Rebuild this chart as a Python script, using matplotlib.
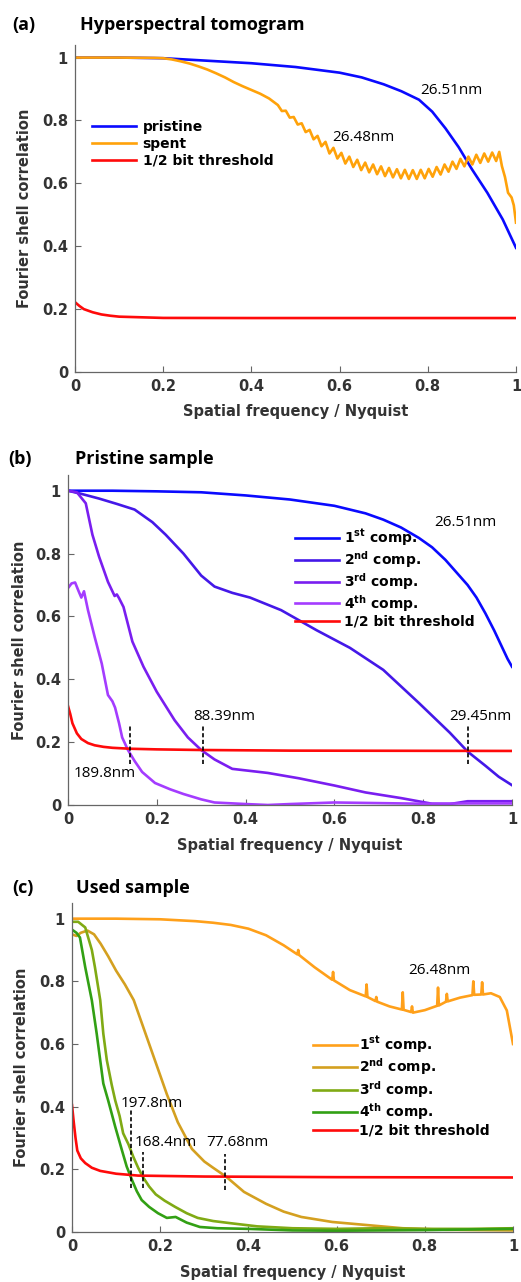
import matplotlib
matplotlib.use('Agg')
import matplotlib.pyplot as plt

plt.rcParams['font.family'] = ['DejaVu Sans']
plt.rcParams['mathtext.fontset'] = 'dejavusans'

# ---------------- (a) Hyperspectral tomogram ----------------
a_pristine_x = [0, 0.1, 0.2, 0.3, 0.4, 0.5, 0.6, 0.65, 0.7, 0.74, 0.78, 0.81, 0.84, 0.87, 0.9,
                0.935, 0.97, 1.0]
a_pristine_y = [1.0, 1.0, 0.998, 0.99, 0.982, 0.97, 0.952, 0.937, 0.915, 0.893, 0.866, 0.828, 0.775,
                0.715, 0.645, 0.57, 0.485, 0.395]

a_spent_x = [0, 0.1, 0.18, 0.2, 0.22, 0.24, 0.26, 0.28, 0.30, 0.32, 0.34, 0.36, 0.38, 0.40, 0.42, 0.44,
             0.460, 0.469, 0.478, 0.487, 0.496, 0.505, 0.514, 0.523, 0.532, 0.541,
             0.550, 0.559, 0.568, 0.577, 0.586, 0.595, 0.604, 0.613, 0.622, 0.631,
             0.640, 0.649, 0.658, 0.667, 0.676, 0.685, 0.694, 0.703, 0.712, 0.721,
             0.730, 0.739, 0.748, 0.757, 0.766, 0.775, 0.784, 0.793, 0.802, 0.811,
             0.820, 0.829, 0.838, 0.847, 0.856, 0.865, 0.874, 0.883, 0.892, 0.901,
             0.910, 0.919, 0.928, 0.937, 0.946, 0.955, 0.962,
             0.968, 0.975, 0.982, 0.99, 0.995, 1.0]
a_spent_y = [1.0, 1.0, 0.999, 0.998, 0.994, 0.988, 0.981, 0.972, 0.962, 0.95, 0.937, 0.922, 0.909,
             0.897, 0.885, 0.87,
             0.849, 0.830, 0.831, 0.809, 0.811, 0.787, 0.791, 0.763, 0.770, 0.740,
             0.751, 0.718, 0.732, 0.695, 0.713, 0.679, 0.697, 0.663, 0.685, 0.652,
             0.675, 0.642, 0.666, 0.635, 0.660, 0.629, 0.654, 0.623, 0.649, 0.619,
             0.645, 0.616, 0.643, 0.614, 0.642, 0.614, 0.643, 0.616, 0.646, 0.621,
             0.652, 0.628, 0.660, 0.637, 0.669, 0.646, 0.678, 0.654, 0.685, 0.660,
             0.691, 0.665, 0.695, 0.669, 0.698, 0.671, 0.700,
             0.655, 0.62, 0.57, 0.555, 0.53, 0.475]

a_thr_x = [0, 0.01, 0.02, 0.04, 0.06, 0.08, 0.1, 0.15, 0.2, 0.4, 1.0]
a_thr_y = [0.222, 0.21, 0.2, 0.19, 0.183, 0.179, 0.176, 0.174, 0.172, 0.1716, 0.1716]

# ---------------- (b) Pristine sample ----------------
b1_x = [0, 0.1, 0.2, 0.3, 0.4, 0.5, 0.6, 0.67, 0.71, 0.75, 0.79, 0.82, 0.85, 0.875, 0.9, 0.92,
        0.94, 0.96, 0.975, 0.99, 1.0]
b1_y = [1.0, 1.0, 0.998, 0.995, 0.985, 0.972, 0.952, 0.928, 0.908, 0.883, 0.85, 0.82, 0.78, 0.74,
        0.70, 0.66, 0.61, 0.555, 0.51, 0.465, 0.44]

b2_x = [0, 0.03, 0.07, 0.11, 0.15, 0.19, 0.22, 0.26, 0.3, 0.33, 0.37, 0.41, 0.48, 0.56, 0.635,
        0.71, 0.79, 0.86, 0.9, 0.94, 0.97, 1.0]
b2_y = [1.0, 0.99, 0.975, 0.958, 0.94, 0.9, 0.86, 0.8, 0.73, 0.695, 0.675, 0.66, 0.62, 0.556, 0.5,
        0.43, 0.325, 0.23, 0.17, 0.125, 0.09, 0.063]

b3_x = [0, 0.02, 0.04, 0.055, 0.07, 0.09, 0.105, 0.11, 0.115, 0.125, 0.145, 0.17, 0.2, 0.24, 0.27,
        0.3, 0.33, 0.37, 0.45, 0.52, 0.6, 0.67, 0.75, 0.82, 0.86, 0.9, 1.0]
b3_y = [1.0, 0.995, 0.96, 0.86, 0.79, 0.71, 0.665, 0.67, 0.658, 0.63, 0.52, 0.44, 0.36, 0.27, 0.215,
        0.175, 0.145, 0.115, 0.102, 0.085, 0.062, 0.04, 0.022, 0.004, 0.003, 0.012, 0.012]

b4_x = [0, 0.008, 0.016, 0.024, 0.03, 0.036, 0.045, 0.06, 0.076, 0.09, 0.1, 0.106, 0.115, 0.122,
        0.135, 0.15, 0.167, 0.196, 0.23, 0.26, 0.3, 0.33, 0.4, 0.45, 0.5, 0.6, 0.7, 0.8, 0.9, 1.0]
b4_y = [0.69, 0.705, 0.708, 0.68, 0.66, 0.68, 0.62, 0.535, 0.45, 0.35, 0.33, 0.31, 0.26, 0.215,
        0.175, 0.14, 0.105, 0.07, 0.05, 0.035, 0.018, 0.008, 0.003, 0.0, 0.003, 0.008, 0.006, 0.004, 0.005, 0.005]

b_thr_x = [0, 0.005, 0.01, 0.02, 0.03, 0.045, 0.06, 0.08, 0.1, 0.14, 0.2, 0.3, 0.5, 1.0]
b_thr_y = [0.315, 0.29, 0.26, 0.228, 0.21, 0.197, 0.19, 0.185, 0.182, 0.179, 0.177, 0.175, 0.173, 0.172]

# ---------------- (c) Used sample ----------------
c1_x = [0, 0.1, 0.2, 0.28, 0.32, 0.36, 0.4, 0.44, 0.48, 0.511, 0.513, 0.515, 0.55, 0.59, 0.592, 0.594,
        0.63, 0.666, 0.668, 0.670, 0.688, 0.690, 0.692, 0.72, 0.748, 0.75, 0.752, 0.769, 0.771, 0.773,
        0.80, 0.828, 0.83, 0.832, 0.848, 0.85, 0.852, 0.88, 0.908, 0.91, 0.912, 0.928, 0.93, 0.932,
        0.95, 0.97, 0.986, 1.0]
c1_y = [1.0, 1.0, 0.998, 0.992, 0.987, 0.98, 0.968, 0.947, 0.915, 0.886, 0.9, 0.884, 0.845, 0.805,
        0.83, 0.803, 0.772, 0.752, 0.79, 0.75, 0.737, 0.75, 0.735, 0.72, 0.71, 0.765, 0.709, 0.702,
        0.72, 0.70, 0.708, 0.722, 0.78, 0.723, 0.735, 0.76, 0.736, 0.748, 0.756, 0.80, 0.757, 0.758,
        0.797, 0.758, 0.762, 0.75, 0.707, 0.60]

c2_x = [0, 0.01, 0.02, 0.035, 0.05, 0.065, 0.082, 0.1, 0.12, 0.14, 0.165, 0.19, 0.215, 0.24, 0.272,
        0.3, 0.32, 0.35, 0.39, 0.44, 0.48, 0.52, 0.59, 0.67, 0.75, 0.85, 1.0]
c2_y = [0.95, 0.945, 0.955, 0.962, 0.95, 0.92, 0.88, 0.834, 0.79, 0.74, 0.64, 0.54, 0.44, 0.35, 0.265,
        0.225, 0.205, 0.176, 0.128, 0.09, 0.065, 0.048, 0.032, 0.022, 0.012, 0.007, 0.005]

c3_x = [0, 0.014, 0.03, 0.045, 0.052, 0.064, 0.071, 0.079, 0.09, 0.098, 0.108, 0.116, 0.128, 0.139,
        0.15, 0.161, 0.175, 0.19, 0.21, 0.234, 0.26, 0.285, 0.32, 0.36, 0.42, 0.5, 0.6, 0.7, 0.8, 0.9, 1.0]
c3_y = [0.99, 0.99, 0.972, 0.9, 0.845, 0.74, 0.633, 0.548, 0.47, 0.42, 0.37, 0.315, 0.28, 0.24,
        0.205, 0.175, 0.145, 0.12, 0.1, 0.08, 0.06, 0.045, 0.035, 0.028, 0.018, 0.012, 0.01, 0.012, 0.01, 0.01, 0.012]

c4_x = [0, 0.01, 0.018, 0.03, 0.045, 0.056, 0.064, 0.071, 0.082, 0.098, 0.113, 0.124, 0.136, 0.147,
        0.158, 0.175, 0.195, 0.215, 0.235, 0.26, 0.29, 0.33, 0.4, 0.5, 0.6, 0.7, 0.8, 0.9, 1.0]
c4_y = [0.965, 0.955, 0.94, 0.845, 0.739, 0.633, 0.548, 0.474, 0.42, 0.336, 0.262, 0.209, 0.166, 0.13,
        0.102, 0.08, 0.06, 0.045, 0.048, 0.03, 0.016, 0.012, 0.01, 0.005, 0.004, 0.005, 0.006, 0.008, 0.01]

c_thr_x = [0, 0.004, 0.008, 0.012, 0.02, 0.03, 0.045, 0.064, 0.1, 0.15, 0.3, 0.6, 1.0]
c_thr_y = [0.405, 0.35, 0.3, 0.26, 0.235, 0.22, 0.205, 0.195, 0.186, 0.18, 0.177, 0.175, 0.174]

# resolution markers (dashed) and labels
b_cut_x = [0.14, 0.304, 0.902]
b_cut_lo, b_cut_hi = 0.13, 0.25
c_cut_x = [0.133, 0.161, 0.348]
c_cut_lo = [0.14, 0.14, 0.135]
c_cut_hi = [0.39, 0.255, 0.25]

comp_labels = ['1$^{\\mathbf{st}}$ comp.', '2$^{\\mathbf{nd}}$ comp.',
               '3$^{\\mathbf{rd}}$ comp.', '4$^{\\mathbf{th}}$ comp.', '1/2 bit threshold']
ticks = [0, 0.2, 0.4, 0.6, 0.8, 1.0]
tick_labels = ['0', '0.2', '0.4', '0.6', '0.8', '1']

W, H = 521, 1282
fig = plt.figure(figsize=(W / 100, H / 100), dpi=100)


def make_axes(left, right, top, bottom, ytop):
    ax = fig.add_axes([left / W, 1 - bottom / H, (right - left) / W, (bottom - top) / H])
    ax.set_xlim(0, 1)
    ax.set_ylim(0, ytop)
    ax.spines['top'].set_visible(False)
    ax.spines['right'].set_visible(False)
    for s in ['left', 'bottom']:
        ax.spines[s].set_color('#666666')
        ax.spines[s].set_linewidth(0.9)
    ax.set_xticks(ticks)
    ax.set_xticklabels(tick_labels)
    ax.set_yticks(ticks)
    ax.set_yticklabels(tick_labels)
    ax.tick_params(direction='in', length=4, width=0.8, color='#666666',
                   labelsize=10.5, labelcolor='#333333', pad=5)
    for lab in ax.get_xticklabels() + ax.get_yticklabels():
        lab.set_fontweight('bold')
    ax.set_xlabel('Spatial frequency / Nyquist', fontsize=10.5, fontweight='bold', color='#333333')
    ax.set_ylabel('Fourier shell correlation', fontsize=10.5, fontweight='bold', color='#333333')
    return ax


def panel_title(y, letter, text, xl, xt):
    fig.text(xl / W, 1 - y / H, letter, fontsize=13, fontweight='bold', family='Open Sans', va='center')
    fig.text(xt / W, 1 - y / H, text, fontsize=13, fontweight='bold', family='Open Sans', va='center')


note = dict(fontsize=11, family='Open Sans', ha='center', va='center')
lw = 1.9
dash = (0, (2.5, 1.5))

# ---- panel (a)
ax = make_axes(75, 516, 45, 372, 1.04)
ax.plot(a_pristine_x, a_pristine_y, color='#0a0aff', lw=lw, label='pristine')
ax.plot(a_spent_x, a_spent_y, color='#ffa20a', lw=lw, label='spent', solid_joinstyle='round')
ax.plot(a_thr_x, a_thr_y, color='#ff0a0a', lw=lw, label='1/2 bit threshold')
ax.text(0.853, 0.895, '26.51nm', **note)
ax.text(0.654, 0.745, '26.48nm', **note)
ax.legend(loc='upper left', bbox_to_anchor=(0.0385, 0.77), frameon=False, borderpad=0,
          borderaxespad=0, handlelength=3.2, handletextpad=0.45, labelspacing=0.2,
          prop={'weight': 'bold', 'size': 10})
ax.xaxis.set_label_coords(0.5, -0.098)
ax.yaxis.set_label_coords(-0.097, 0.5)
panel_title(25, '(a)', 'Hyperspectral tomogram', 12, 80)

# ---- panel (b)
ax = make_axes(68, 512, 475, 805, 1.05)
b_colors = ['#0a0aff', '#4418e8', '#7a1ef0', '#a43cff', '#ff0a0a']
for xs, ys, col, lab in zip([b1_x, b2_x, b3_x, b4_x, b_thr_x], [b1_y, b2_y, b3_y, b4_y, b_thr_y],
                            b_colors, comp_labels):
    ax.plot(xs, ys, color=col, lw=lw, label=lab)
for xc in b_cut_x:
    ax.plot([xc, xc], [b_cut_lo, b_cut_hi], color='black', lw=1.2, ls=dash)
ax.text(0.894, 0.90, '26.51nm', **note)
ax.text(0.083, 0.10, '189.8nm', **note)
ax.text(0.351, 0.28, '88.39nm', **note)
ax.text(0.928, 0.28, '29.45nm', **note)
ax.legend(loc='upper left', bbox_to_anchor=(0.511, 0.84), frameon=False, borderpad=0,
          borderaxespad=0, handlelength=3.2, handletextpad=0.36, labelspacing=0.06,
          prop={'weight': 'bold', 'size': 10})
ax.xaxis.set_label_coords(0.5, -0.1)
ax.yaxis.set_label_coords(-0.092, 0.5)
panel_title(459, '(b)', 'Pristine sample', 8, 75)

# ---- panel (c)
ax = make_axes(72, 513, 903, 1232, 1.05)
c_colors = ['#ffa01a', '#d4a020', '#80aa14', '#32a014', '#ff0a0a']
for xs, ys, col, lab in zip([c1_x, c2_x, c3_x, c4_x, c_thr_x], [c1_y, c2_y, c3_y, c4_y, c_thr_y],
                            c_colors, comp_labels):
    ax.plot(xs, ys, color=col, lw=lw, label=lab)
for xc, lo, hi in zip(c_cut_x, c_cut_lo, c_cut_hi):
    ax.plot([xc, xc], [lo, hi], color='black', lw=1.2, ls=dash)
ax.text(0.832, 0.835, '26.48nm', **note)
ax.text(0.18, 0.41, '197.8nm', **note)
ax.text(0.213, 0.287, '168.4nm', **note)
ax.text(0.376, 0.287, '77.68nm', **note)
ax.legend(loc='upper left', bbox_to_anchor=(0.546, 0.6), frameon=False, borderpad=0,
          borderaxespad=0, handlelength=3.2, handletextpad=0.1, labelspacing=0.1,
          prop={'weight': 'bold', 'size': 10})
ax.xaxis.set_label_coords(0.5, -0.1)
ax.yaxis.set_label_coords(-0.098, 0.5)
panel_title(888, '(c)', 'Used sample', 12, 76)

fig.savefig('out.png', dpi=100)
